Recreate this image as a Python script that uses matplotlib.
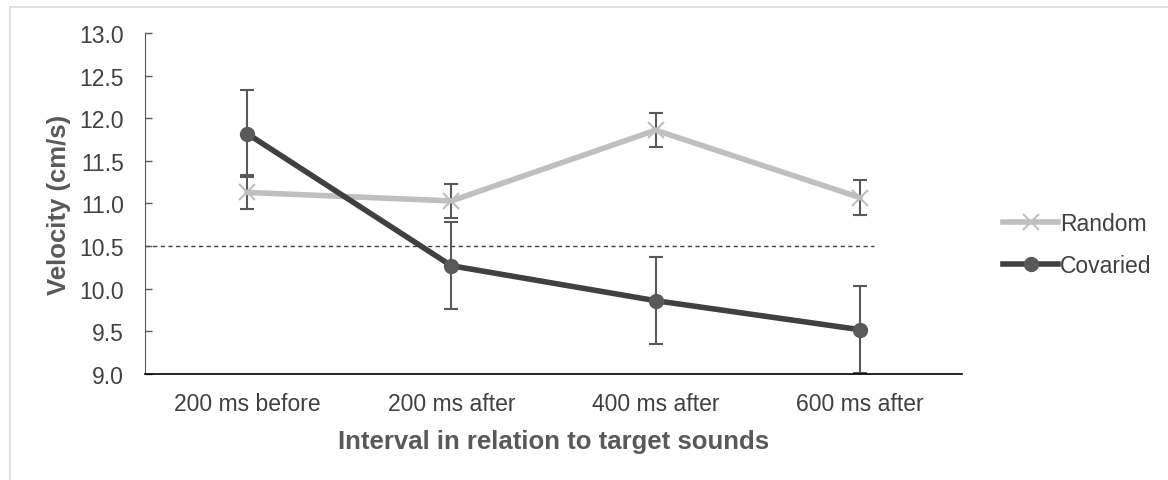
import matplotlib.pyplot as plt
from matplotlib.patches import Rectangle

plt.rcParams['font.family'] = ['Liberation Sans', 'DejaVu Sans']

intervals = ['200 ms before', '200 ms after', '400 ms after', '600 ms after']
random_vel = [11.13, 11.03, 11.86, 11.07]
random_err = [0.20, 0.20, 0.20, 0.20]
covaried_vel = [11.82, 10.27, 9.86, 9.52]
covaried_err = [0.51, 0.51, 0.51, 0.51]
baseline = 10.5

x = list(range(len(intervals)))

fig = plt.figure(figsize=(11.68, 4.81), dpi=100)
ax = fig.add_axes([0.1241, 0.2204, 0.6995, 0.7089])

fig.patches.append(Rectangle((10 / 1168, -0.1), 1.2, 1.1 - 8 / 481, transform=fig.transFigure,
                             fill=False, edgecolor='#d9d9d9', linewidth=1.2))

ax.plot([-0.5, 3.07], [baseline, baseline], ls=(0, (3, 2.5)), color='#404040', lw=1, zorder=1)

ax.errorbar(x, random_vel, yerr=random_err, fmt='none', ecolor='#595959',
            elinewidth=1.5, capsize=5, capthick=1.5, zorder=2)
ax.errorbar(x, covaried_vel, yerr=covaried_err, fmt='none', ecolor='#595959',
            elinewidth=1.5, capsize=5, capthick=1.5, zorder=2)

ax.plot(x, random_vel, color='#bfbfbf', lw=4, marker='x', markersize=12,
        markeredgewidth=1.5, markeredgecolor='#bfbfbf', label='Random', zorder=3)
ax.plot(x, covaried_vel, color='#404040', lw=4, marker='o', markersize=10,
        markerfacecolor='#595959', markeredgecolor='#595959', label='Covaried', zorder=4)

ax.set_xlim(-0.5, 3.5)
ax.set_ylim(9.0, 13.0)
ax.set_yticks([9.0 + 0.5 * i for i in range(9)])
ax.set_yticklabels([f'{9.0 + 0.5 * i:.1f}' for i in range(9)])
ax.set_xticks(x)
ax.set_xticklabels(intervals)

ax.tick_params(axis='y', colors='#595959', labelsize=16.5, length=5, width=1, direction='in', pad=15)
ax.tick_params(axis='x', colors='#595959', labelsize=16.5, length=0, pad=13)
for lbl in ax.get_yticklabels() + ax.get_xticklabels():
    lbl.set_color('#404040')

ax.spines['top'].set_visible(False)
ax.spines['right'].set_visible(False)
ax.spines['left'].set_color('#595959')
ax.spines['bottom'].set_color('#000000')
ax.spines['bottom'].set_linewidth(1.2)

ax.set_ylabel('Velocity (cm/s)', fontsize=18.5, fontweight='bold', color='#595959', labelpad=6)
ax.set_xlabel('Interval in relation to target sounds', fontsize=18.5, fontweight='bold',
              color='#595959', labelpad=10)

ax.legend(loc='center left', bbox_to_anchor=(1.025, 0.38), frameon=False, fontsize=16.5,
          handlelength=2.4, handletextpad=0.1, labelspacing=0.8, labelcolor='#404040')

fig.savefig('out.png', dpi=100)
